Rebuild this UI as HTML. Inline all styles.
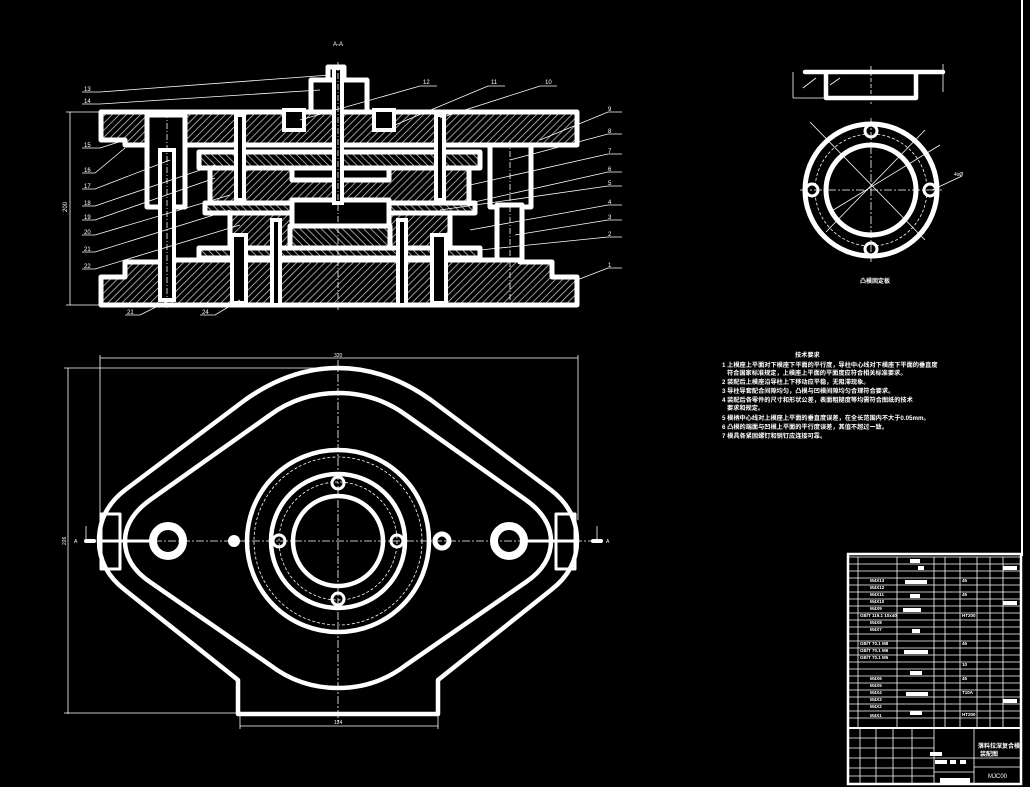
<!DOCTYPE html>
<html><head><meta charset="utf-8"><style>
html,body{margin:0;padding:0;background:#000;}
svg{display:block;}
text{font-family:"Liberation Sans","Noto Sans CJK SC",sans-serif;fill:#fff;}
</style></head><body>
<svg width="1030" height="787" viewBox="0 0 1030 787" xmlns="http://www.w3.org/2000/svg">
<defs>
<pattern id="h" width="5" height="5" patternUnits="userSpaceOnUse" patternTransform="rotate(45)">
<rect width="5" height="5" fill="#000"/><line x1="0" y1="0" x2="0" y2="5" stroke="#ccc" stroke-width="1.5"/>
</pattern>
<pattern id="h2" width="5" height="5" patternUnits="userSpaceOnUse" patternTransform="rotate(-45)">
<rect width="5" height="5" fill="#000"/><line x1="0" y1="0" x2="0" y2="5" stroke="#ccc" stroke-width="1.5"/>
</pattern>
</defs>
<rect width="1030" height="787" fill="#000"/>
<line x1="1022" y1="0" x2="1022" y2="556" stroke="#fff" stroke-width="2"/>

<text x="333" y="46" font-size="6">A-A</text>
<g stroke="#fff" stroke-width="5" stroke-linejoin="round">
<path d="M101,112 H577 V145 H531 V147 H490 V145 H185 V147 H147 V145 H125 V140 H101 Z" fill="url(#h)"/>
<path d="M311,80 H367 V112 H311 Z" fill="#000"/>
<path d="M328,67 H344 V80 H328 Z" fill="#000"/>
<rect x="147" y="115" width="38" height="92" fill="#000"/>
<rect x="490" y="145" width="41" height="62" fill="#000"/>
<rect x="497" y="205" width="25" height="100" fill="#000"/>
<rect x="199" y="152" width="281" height="16" fill="url(#h2)"/>
<rect x="210" y="168" width="259" height="35" fill="url(#h)"/>
<rect x="292" y="168" width="97" height="12" fill="#000"/>
<rect x="205" y="203" width="270" height="10" fill="url(#h2)"/>
<rect x="230" y="213" width="220" height="35" fill="url(#h)"/>
<rect x="292" y="200" width="97" height="26" fill="#000"/>
<rect x="290" y="226" width="100" height="22" fill="url(#h2)"/>
<rect x="199" y="248" width="281" height="10" fill="url(#h2)"/>
<path d="M101,305 V277 H125 V262 H160 V260 H520 V262 H552 V277 H577 V305 Z" fill="url(#h)"/>
</g>
<g stroke="#fff" stroke-width="4" fill="#000">
<rect x="160" y="150" width="14" height="150"/>
<rect x="232" y="235" width="14" height="68"/>
<rect x="432" y="235" width="14" height="68"/>
<rect x="236" y="115" width="8" height="85"/>
<rect x="436" y="115" width="8" height="85"/>
<rect x="284" y="110" width="20" height="20"/>
<rect x="374" y="110" width="20" height="20"/>
<rect x="334" y="68" width="8" height="135"/>
<rect x="272" y="220" width="8" height="85"/>
<rect x="398" y="220" width="8" height="85"/>
</g>
<g stroke="#fff" stroke-width="0.8" stroke-dasharray="6,2,1,2">
<line x1="338" y1="62" x2="338" y2="310"/>
<line x1="167" y1="112" x2="167" y2="310"/>
<line x1="510" y1="140" x2="510" y2="300"/>
</g>
<g stroke="#fff" stroke-width="0.8">
<line x1="70" y1="112" x2="70" y2="305"/><line x1="66" y1="112" x2="101" y2="112"/><line x1="66" y1="305" x2="101" y2="305"/>
</g>
<text x="0" y="0" font-size="6" transform="translate(67,212) rotate(-90)">200</text>
<g stroke="#fff" stroke-width="0.8" fill="none">
<path d="M82,92 H100 L330,75"/><path d="M82,104 H100 L320,90"/>
<path d="M82,148 H100 L125,140"/><path d="M82,173 H95 L125,148"/>
<path d="M82,189 H95 L170,160"/><path d="M82,206 H95 L215,165"/>
<path d="M82,220 H95 L215,178"/><path d="M82,235 H95 L230,195"/>
<path d="M82,252 H95 L230,210"/><path d="M82,269 H95 L240,225"/>
<path d="M125,315 H140 L170,300"/><path d="M200,315 H215 L240,300"/>
<path d="M437,86 H420 L300,120"/><path d="M505,86 H488 L395,125"/>
<path d="M557,86 H540 L440,118"/>
<path d="M622,112 H608 L540,140"/><path d="M622,134 H608 L510,160"/>
<path d="M622,154 H608 L470,185"/><path d="M622,172 H608 L470,203"/>
<path d="M622,186 H608 L440,210"/><path d="M622,205 H608 L470,230"/>
<path d="M622,220 H608 L515,235"/><path d="M622,237 H608 L480,250"/>
<path d="M622,268 H608 L577,280"/>
</g>
<g font-size="6">
<text x="84" y="91">13</text><text x="84" y="103">14</text><text x="84" y="147">15</text>
<text x="84" y="172">16</text><text x="84" y="188">17</text><text x="84" y="205">18</text>
<text x="84" y="219">19</text><text x="84" y="234">20</text><text x="84" y="251">21</text>
<text x="84" y="268">22</text><text x="127" y="314">21</text><text x="202" y="314">24</text>
<text x="423" y="84">12</text><text x="491" y="84">11</text><text x="545" y="84">10</text>
<text x="608" y="111">9</text><text x="608" y="133">8</text><text x="608" y="153">7</text>
<text x="608" y="171">6</text><text x="608" y="185">5</text><text x="608" y="204">4</text>
<text x="608" y="219">3</text><text x="608" y="236">2</text><text x="608" y="267">1</text>
</g>

<g stroke="#fff" stroke-width="0.8">
<line x1="100" y1="358" x2="578" y2="358"/><line x1="100" y1="355" x2="100" y2="520"/><line x1="578" y1="355" x2="578" y2="520"/>
<line x1="68" y1="368" x2="68" y2="714"/><line x1="64" y1="368" x2="338" y2="368"/><line x1="64" y1="713" x2="238" y2="713"/>
<line x1="240" y1="726" x2="438" y2="726"/><line x1="240" y1="716" x2="240" y2="729"/><line x1="438" y1="716" x2="438" y2="729"/>
</g>
<text x="334" y="357" font-size="5">320</text>
<text x="334" y="724" font-size="5">124</text>
<text x="0" y="0" font-size="5" transform="translate(66,545) rotate(-90)">226</text>
<g stroke="#fff" stroke-width="4.5" fill="none" stroke-linejoin="round">
<path d="M238,714 L238,680 L125,590 Q99,570 99,541 Q99,510 125,490 L245,400 Q290,368 338,368 Q386,368 431,400 L551,490 Q577,510 577,541 Q577,570 551,590 L438,680 L438,714 Z"/>
<path d="M338,393 Q300,393 270,415 L150,500 Q125,518 125,541 Q125,565 150,582 L270,665 Q300,688 338,688 Q376,688 406,665 L526,582 Q551,565 551,541 Q551,518 526,500 L406,415 Q376,393 338,393 Z"/>
<rect x="101" y="514" width="19" height="55" stroke-width="3"/>
<rect x="556" y="514" width="19" height="55" stroke-width="3"/>
<line x1="101" y1="541" x2="150" y2="541" stroke-width="3"/>
<line x1="526" y1="541" x2="575" y2="541" stroke-width="3"/>
<circle cx="338" cy="541" r="91"/>
<circle cx="338" cy="541" r="67"/>
<circle cx="338" cy="541" r="45"/>
<circle cx="168" cy="541" r="15" stroke-width="8"/>
<circle cx="509" cy="541" r="15" stroke-width="8"/>
<circle cx="442" cy="541" r="7" stroke-width="5"/>
</g>
<circle cx="234" cy="541" r="6" fill="#fff"/>
<g fill="#000" stroke="#fff" stroke-width="3">
<circle cx="338" cy="483" r="6"/><circle cx="338" cy="599" r="6"/>
<circle cx="279" cy="541" r="6"/><circle cx="397" cy="541" r="6"/>
</g>
<g stroke="#fff" stroke-width="0.8" fill="none" stroke-dasharray="3,2">
<circle cx="338" cy="541" r="84"/><circle cx="338" cy="541" r="59"/>
</g>
<g stroke="#fff" stroke-width="0.8" stroke-dasharray="8,2,2,2">
<line x1="84" y1="541" x2="592" y2="541"/><line x1="338" y1="360" x2="338" y2="722"/>
</g>
<g fill="#fff"><rect x="84" y="539" width="12" height="4" rx="2"/><rect x="591" y="539" width="12" height="4" rx="2"/></g>
<g stroke="#fff" stroke-width="0.8"><line x1="86" y1="539" x2="86" y2="526"/><line x1="597" y1="539" x2="597" y2="526"/></g>
<text x="74" y="543" font-size="5">A</text><text x="606" y="543" font-size="5">A</text>

<g stroke="#fff" stroke-width="4.5" fill="none" stroke-linejoin="round" stroke-linecap="round">
<path d="M805,72 H943 M826,72 V98 H916 V72"/>
</g>
<g stroke="#fff" stroke-width="0.8">
<line x1="793" y1="72" x2="793" y2="98"/><line x1="793" y1="98" x2="826" y2="98"/>
<line x1="803" y1="88" x2="816" y2="78"/><line x1="830" y1="85" x2="840" y2="78"/>
<line x1="943" y1="64" x2="943" y2="92"/>
<line x1="871" y1="66" x2="871" y2="104" stroke-dasharray="4,2"/>
</g>
<g stroke="#fff" stroke-width="5" fill="none">
<circle cx="871" cy="190" r="66"/><circle cx="871" cy="190" r="45"/>
</g>
<circle cx="871" cy="190" r="56" stroke="#fff" stroke-width="0.8" fill="none" stroke-dasharray="3,2"/>
<g fill="#000" stroke="#fff" stroke-width="3">
<circle cx="871" cy="131" r="6"/><circle cx="871" cy="249" r="6"/>
<circle cx="812" cy="190" r="6"/><circle cx="930" cy="190" r="6"/>
</g>
<g stroke="#fff" stroke-width="0.8">
<line x1="800" y1="190" x2="942" y2="190" stroke-dasharray="8,2,2,2"/>
<line x1="871" y1="118" x2="871" y2="262" stroke-dasharray="8,2,2,2"/>
<line x1="810" y1="122" x2="925" y2="240"/><line x1="925" y1="130" x2="826" y2="232"/>
<line x1="940" y1="145" x2="830" y2="212"/><line x1="932" y1="190" x2="962" y2="176"/>
</g>
<text x="954" y="176" font-size="5">4xØ</text>
<text x="860" y="283" font-size="6" font-weight="bold">凸模固定板</text>

<g font-size="6.2" font-weight="bold">
<text x="795" y="357">技术要求</text>
<text x="722" y="367">1 上模座上平面对下模座下平面的平行度，导柱中心线对下模座下平面的垂直度</text>
<text x="727" y="375">符合国家标准规定，上模座上平面的平面度应符合相关标准要求。</text>
<text x="722" y="384">2 装配后上模座沿导柱上下移动应平稳，无阻滞现象。</text>
<text x="722" y="393">3 导柱导套配合间隙均匀，凸模与凹模间隙均匀合理符合要求。</text>
<text x="722" y="402">4 装配后各零件的尺寸和形状公差，表面粗糙度等均需符合图纸的技术</text>
<text x="727" y="410">要求和规定。</text>
<text x="722" y="420">5 模柄中心线对上模座上平面的垂直度误差，在全长范围内不大于0.05mm。</text>
<text x="722" y="429">6 凸模的端面与凹模上平面的平行度误差，其值不超过一致。</text>
<text x="722" y="438">7 模具各紧固螺钉和销钉应连接可靠。</text>
</g>

<g stroke="#fff" fill="none">
<rect x="848" y="554" width="173" height="230" stroke-width="2.5"/>
<g stroke-width="0.8">
<line x1="848" y1="557" x2="1021" y2="557"/>
<line x1="848" y1="564" x2="1021" y2="564"/><line x1="848" y1="571" x2="1021" y2="571"/>
<line x1="848" y1="578" x2="1021" y2="578"/><line x1="848" y1="585" x2="1021" y2="585"/>
<line x1="848" y1="592" x2="1021" y2="592"/><line x1="848" y1="599" x2="1021" y2="599"/>
<line x1="848" y1="606" x2="1021" y2="606"/><line x1="848" y1="613" x2="1021" y2="613"/>
<line x1="848" y1="620" x2="1021" y2="620"/><line x1="848" y1="627" x2="1021" y2="627"/>
<line x1="848" y1="634" x2="1021" y2="634"/><line x1="848" y1="641" x2="1021" y2="641"/>
<line x1="848" y1="648" x2="1021" y2="648"/><line x1="848" y1="655" x2="1021" y2="655"/>
<line x1="848" y1="662" x2="1021" y2="662"/><line x1="848" y1="669" x2="1021" y2="669"/>
<line x1="848" y1="676" x2="1021" y2="676"/><line x1="848" y1="683" x2="1021" y2="683"/>
<line x1="848" y1="690" x2="1021" y2="690"/><line x1="848" y1="697" x2="1021" y2="697"/>
<line x1="848" y1="704" x2="1021" y2="704"/><line x1="848" y1="711" x2="1021" y2="711"/>
<line x1="848" y1="718" x2="1021" y2="718"/>
<line x1="858" y1="557" x2="858" y2="728"/><line x1="897" y1="557" x2="897" y2="728"/>
<line x1="934" y1="557" x2="934" y2="728"/><line x1="945" y1="557" x2="945" y2="728"/>
<line x1="960" y1="557" x2="960" y2="728"/><line x1="977" y1="557" x2="977" y2="728"/>
<line x1="990" y1="557" x2="990" y2="728"/><line x1="1003" y1="557" x2="1003" y2="728"/>
</g>
<line x1="848" y1="728" x2="1021" y2="728" stroke-width="2"/>
<g stroke-width="0.8">
<line x1="848" y1="738" x2="934" y2="738"/><line x1="848" y1="748" x2="934" y2="748"/>
<line x1="848" y1="758" x2="1021" y2="758"/><line x1="848" y1="768" x2="934" y2="768"/>
<line x1="848" y1="776" x2="934" y2="776"/>
<line x1="934" y1="728" x2="934" y2="784"/><line x1="974" y1="728" x2="974" y2="784"/>
<line x1="974" y1="767" x2="1021" y2="767"/><line x1="934" y1="772" x2="974" y2="772"/>
<line x1="860" y1="728" x2="860" y2="784"/><line x1="876" y1="728" x2="876" y2="784"/>
<line x1="893" y1="728" x2="893" y2="784"/><line x1="912" y1="728" x2="912" y2="784"/>
</g>
</g>
<g fill="#fff">
<rect x="910" y="559" width="10" height="4"/><rect x="918" y="566" width="6" height="4"/>
<rect x="905" y="580" width="22" height="4"/><rect x="910" y="594" width="10" height="4"/>
<rect x="903" y="608" width="18" height="4"/><rect x="912" y="629" width="8" height="4"/>
<rect x="904" y="650" width="24" height="4"/><rect x="910" y="671" width="12" height="4"/>
<rect x="906" y="692" width="22" height="4"/><rect x="910" y="711" width="12" height="4"/>
<rect x="1003" y="566" width="14" height="4"/><rect x="1003" y="601" width="14" height="4"/>
<rect x="1003" y="699" width="14" height="4"/>
<rect x="935" y="760" width="12" height="4"/><rect x="950" y="760" width="6" height="4"/><rect x="960" y="760" width="6" height="4"/>
<rect x="930" y="752" width="12" height="4"/><rect x="940" y="778" width="30" height="5"/>
</g>
<g font-size="4.5" font-weight="bold">
<text x="870" y="582">M4X13</text><text x="870" y="589">M4X12</text><text x="870" y="596">M4X11</text>
<text x="870" y="603">M4X10</text><text x="870" y="610">M4X9</text><text x="870" y="624">M4X8</text>
<text x="860" y="617">GB/T 119.1 10x40</text><text x="870" y="631">M4X7</text>
<text x="860" y="645">GB/T 70.1 M8</text><text x="860" y="652">GB/T 70.1 M6</text>
<text x="860" y="659">GB/T 70.1 M5</text>
<text x="870" y="680">M4X6</text><text x="870" y="687">M4X5</text><text x="870" y="694">M4X4</text>
<text x="870" y="701">M4X3</text><text x="870" y="708">M4X2</text><text x="870" y="717">M4X1</text>
<text x="962" y="582">45</text><text x="962" y="596">45</text><text x="962" y="617">HT200</text>
<text x="962" y="645">45</text><text x="962" y="666">10</text><text x="962" y="680">45</text>
<text x="962" y="694">T10A</text><text x="962" y="716">HT200</text>
</g>
<text x="978" y="748" font-size="6" font-weight="bold">落料拉深复合模</text>
<text x="980" y="756" font-size="6" font-weight="bold">装配图</text>
<text x="988" y="778" font-size="6">MJC00</text>
</svg>
</body></html>
